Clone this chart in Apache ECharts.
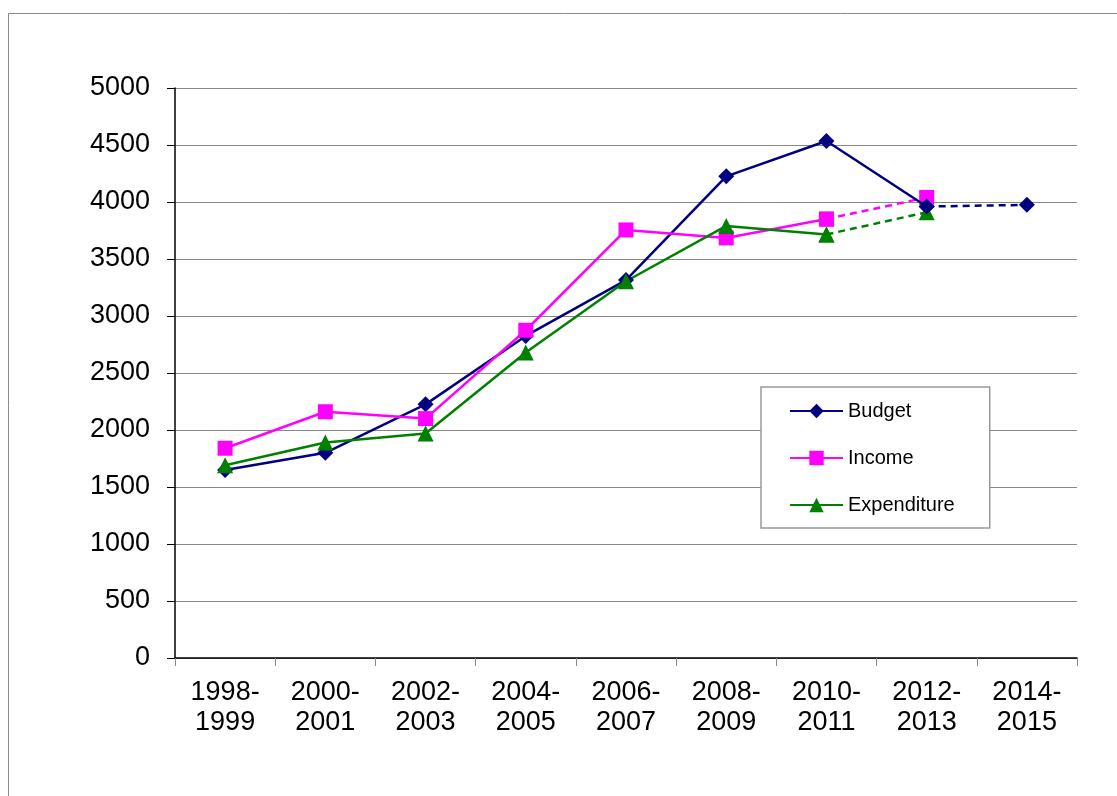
<!DOCTYPE html>
<html>
<head>
<meta charset="utf-8">
<script src="https://cdn.jsdelivr.net/npm/echarts@6/dist/echarts.min.js"></script>
<style>
html,body{margin:0;padding:0;background:#fff;}
#chart{width:1117px;height:796px;}
</style>
</head>
<body>
<div id="chart"></div>
<script>
const categories = ["1998-\n1999","2000-\n2001","2002-\n2003","2004-\n2005","2006-\n2007","2008-\n2009","2010-\n2011","2012-\n2013","2014-\n2015"];
const budget = [1650, 1800, 2225, 2825, 3315, 4225, 4535, 3960, 3975];
const income = [1840, 2160, 2100, 2875, 3755, 3685, 3850, 4040, null];
const expenditure = [1690, 1890, 1970, 2680, 3305, 3790, 3715, 3910, null];
const budgetSolidEnd = 7;   // last index of solid segment
const incomeSolidEnd = 6;
const expSolidEnd = 6;

function solidPart(arr, end){ return arr.map((v,i)=> i<=end ? v : null); }
function dashedPart(arr, end){ return arr.map((v,i)=> i>=end ? v : null); }

const chart = echarts.init(document.getElementById('chart'), null, {renderer:'canvas'});
const font = '"Liberation Sans", Arial, sans-serif';
const colors = {b:'#000080', i:'#FF00FF', e:'#008000'};

function mk(name, data, color, symbol, size, dashed){
  return {
    name: name, type:'line', data: data, connectNulls:false,
    symbol: symbol, symbolSize: size, showSymbol:true, showAllSymbol:true,
    lineStyle:{color:color, width:2.5, type: dashed ? [7,5] : 'solid'},
    itemStyle:{color:color},
    emphasis:{disabled:true},
    z: dashed ? 1 : 2,
    animation:false
  };
}

const option = {
  animation:false,
  backgroundColor:'#fff',
  graphic:[{type:'rect', shape:{x:8.5, y:13.5, width:1300, height:1000}, style:{fill:'none', stroke:'#8c8c8c', lineWidth:1}, z:-10}],
  grid:{left:175, right:40, top:88, bottom:138, containLabel:false},
  legend:{
    orient:'vertical', left:761, top:387,
    padding:[14,35,13,28],
    itemGap:27, itemWidth:53, itemHeight:18,
    backgroundColor:'#fff', borderColor:'#999', borderWidth:1.5,
    textStyle:{fontFamily:font, fontSize:20, color:'#000'},
    data:['Budget','Income','Expenditure']
  },
  xAxis:{
    type:'category', data:categories, boundaryGap:true,
    axisLine:{show:true, lineStyle:{color:'#000', width:1.5}},
    axisTick:{show:true, interval:0, length:8, lineStyle:{color:'#888'}},
    axisLabel:{interval:0, fontFamily:font, fontSize:27, color:'#000', lineHeight:30, margin:20},
    splitLine:{show:false}
  },
  yAxis:{
    type:'value', min:0, max:5000, interval:500,
    axisLine:{show:true, lineStyle:{color:'#000', width:1.5}},
    axisTick:{show:true, length:8, lineStyle:{color:'#000'}},
    axisLabel:{fontFamily:font, fontSize:27, color:'#000', margin:25, formatter: v => String(v)},
    splitLine:{show:true, lineStyle:{color:'#888', width:1}}
  },
  series:[
    mk('Budget', solidPart(budget, budgetSolidEnd), colors.b, 'diamond', 16, false),
    mk('Income', solidPart(income, incomeSolidEnd), colors.i, 'rect', 15, false),
    mk('Expenditure', solidPart(expenditure, expSolidEnd), colors.e, 'triangle', 16, false),
    mk('Budget ', dashedPart(budget, budgetSolidEnd), colors.b, 'diamond', 16, true),
    mk('Income ', dashedPart(income, incomeSolidEnd), colors.i, 'rect', 15, true),
    mk('Expenditure ', dashedPart(expenditure, expSolidEnd), colors.e, 'triangle', 16, true)
  ]
};
chart.setOption(option);
</script>
</body>
</html>
